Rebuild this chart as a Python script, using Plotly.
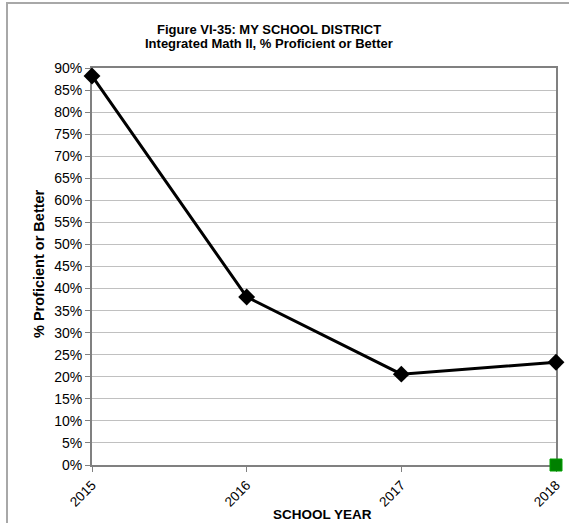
import plotly.graph_objects as go

years = ["2015", "2016", "2017", "2018"]
proficient = [0.882, 0.381, 0.206, 0.233]
marker_year = ["2018"]
marker_value = [0.0]
y_ticks = [i * 0.05 for i in range(19)]

W, H = 569, 523
L, R, T, B = 92, 13, 68, 58
pw, ph = W - L - R, H - T - B

def px(x):
    return (x - L) / pw

def py(y):
    return (H - B - y) / ph

FONT = "Arial, Liberation Sans, sans-serif"

fig = go.Figure()
fig.add_trace(go.Scatter(
    x=years, y=proficient, mode="lines+markers",
    line=dict(color="black", width=3),
    marker=dict(symbol="diamond", size=13, color="black"),
    cliponaxis=False, showlegend=False,
))
fig.add_trace(go.Scatter(
    x=marker_year, y=marker_value, mode="markers",
    marker=dict(symbol="square", size=12, color="#008000",
                line=dict(color="#00a000", width=1)),
    cliponaxis=False, showlegend=False,
))

fig.update_layout(
    width=W, height=H,
    margin=dict(l=L, r=R, t=T, b=B, autoexpand=False),
    paper_bgcolor="white", plot_bgcolor="white",
    font=dict(family=FONT, color="black", size=13),
    xaxis=dict(
        type="category", range=[0, 3], categoryorder="array", categoryarray=years,
        showgrid=False, showline=True, linecolor="#808080", linewidth=2, mirror=True,
        ticks="outside", ticklen=5, tickcolor="#808080", tickwidth=1,
        tickangle=-45, tickfont=dict(size=13.5, family=FONT), automargin=False,
        layer="below traces",
    ),
    yaxis=dict(
        range=[0, 0.9], tickvals=y_ticks, tickformat=".0%",
        showgrid=True, gridcolor="#c0c0c0", gridwidth=1,
        showline=True, linecolor="#808080", linewidth=2, mirror=True,
        ticks="outside", ticklen=5, tickcolor="#808080", tickwidth=1,
        tickfont=dict(size=14, family=FONT), zeroline=False, automargin=False,
        layer="below traces",
    ),
    annotations=[
        dict(text="<b>Figure VI-35: MY SCHOOL DISTRICT</b>", x=px(269), y=py(30),
             xref="paper", yref="paper", showarrow=False, xanchor="center", yanchor="middle",
             font=dict(size=13, family=FONT)),
        dict(text="<b>Integrated Math II, % Proficient or Better</b>", x=px(269), y=py(43),
             xref="paper", yref="paper", showarrow=False, xanchor="center", yanchor="middle",
             font=dict(size=13, family=FONT)),
        dict(text="<b>SCHOOL YEAR</b>", x=px(322), y=py(514),
             xref="paper", yref="paper", showarrow=False, xanchor="center", yanchor="middle",
             font=dict(size=13.5, family=FONT)),
        dict(text="<b>% Proficient or Better</b>", x=px(39), y=py(264), textangle=-90,
             xref="paper", yref="paper", showarrow=False, xanchor="center", yanchor="middle",
             font=dict(size=14.5, family=FONT)),
    ],
    shapes=[
        dict(type="rect", xref="paper", yref="paper",
             x0=px(7), x1=px(600), y0=py(3), y1=py(560),
             line=dict(color="#a8a8a8", width=2), layer="below"),
    ],
)

fig.write_html("out.html", config={"displayModeBar": False},
               post_script="document.body.style.margin='0';")
